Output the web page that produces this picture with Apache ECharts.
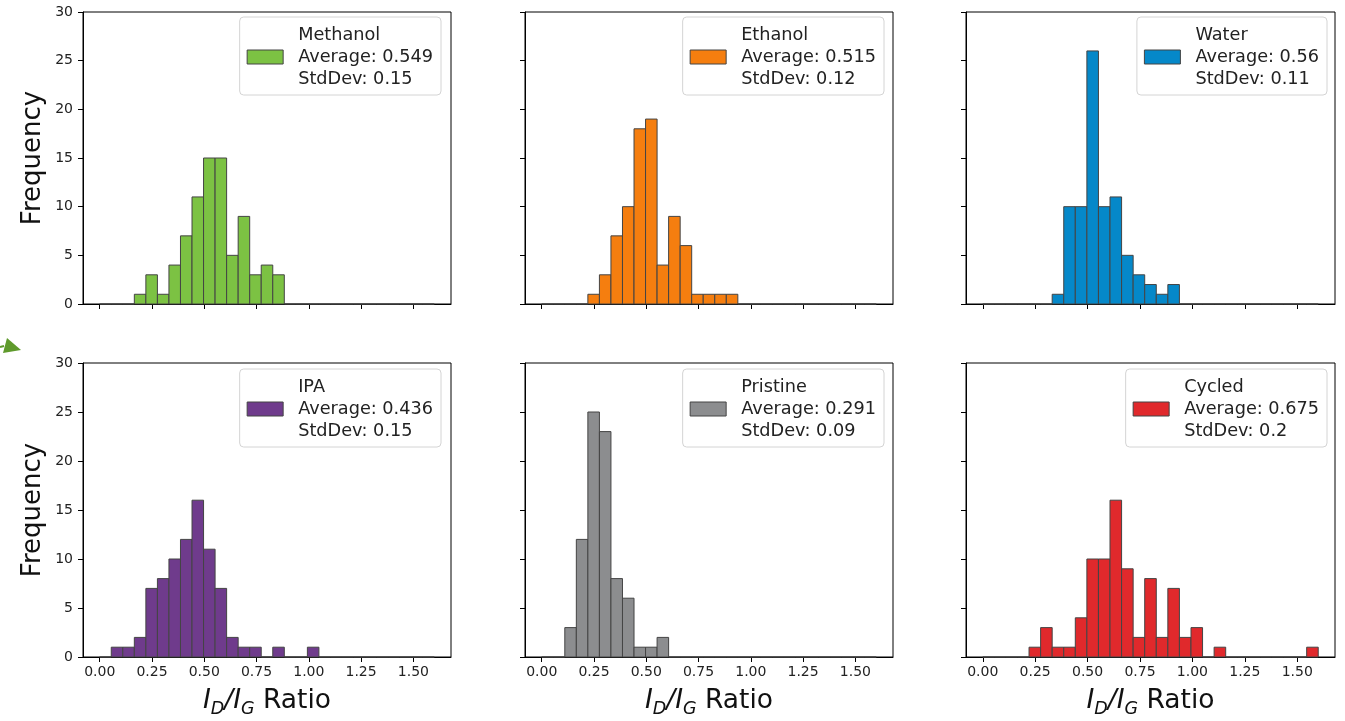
<!DOCTYPE html>
<html>
<head>
<meta charset="utf-8">
<script src="https://cdn.jsdelivr.net/npm/echarts@6/dist/echarts.min.js"></script>
<style>
html,body{margin:0;padding:0;background:#fff;}
#chart{width:1345px;height:721px;}
</style>
</head>
<body>
<div id="chart"></div>
<script>
// ---- data ----
const names = ['Methanol', 'Ethanol', 'Water', 'IPA', 'Pristine', 'Cycled'];
const averages = ['0.549', '0.515', '0.56', '0.436', '0.291', '0.675'];
const stdDevs = ['0.15', '0.12', '0.11', '0.15', '0.09', '0.2'];
const colors = ['#7cc243', '#f57e0f', '#0588c9', '#6f3b8c', '#8c8d8f', '#e0292c'];
// histogram bins: 29 equal bins from 0 to 1.6
const BIN_MIN = 0, BIN_MAX = 1.6, BIN_COUNT = 29;
const methanolCounts = [0,0,0,1,3,1,4,7,11,15,15,5,9,3,4,3,0,0,0,0,0,0,0,0,0,0,0,0,0];
const ethanolCounts  = [0,0,0,0,1,3,7,10,18,19,4,9,6,1,1,1,1,0,0,0,0,0,0,0,0,0,0,0,0];
const waterCounts    = [0,0,0,0,0,0,1,10,10,26,10,11,5,3,2,1,2,0,0,0,0,0,0,0,0,0,0,0,0];
const ipaCounts      = [0,1,1,2,7,8,10,12,16,11,7,2,1,1,0,1,0,0,1,0,0,0,0,0,0,0,0,0,0];
const pristineCounts = [0,0,3,12,25,23,8,6,1,1,2,0,0,0,0,0,0,0,0,0,0,0,0,0,0,0,0,0,0];
const cycledCounts   = [0,0,0,0,1,3,1,1,4,10,10,16,9,2,8,2,7,2,3,0,1,0,0,0,0,0,0,0,1];
const xTicks = [0, 0.25, 0.5, 0.75, 1.0, 1.25, 1.5];
const yTicks = [0, 5, 10, 15, 20, 25, 30];
const allCounts = [methanolCounts, ethanolCounts, waterCounts, ipaCounts, pristineCounts, cycledCounts];

// ---- layout ----
const FONT = 'DejaVu Sans';
const colLeft = [83, 525, 966];
const colWidth = [368, 368, 369];
const rowTop = [12, 363];
const rowHeight = [292, 294];
const legendRight = [904, 461, 18];
const legendTop = [17, 369];

const grids = [], xAxes = [], yAxes = [], series = [], legends = [];
for (let i = 0; i < 6; i++) {
  const r = Math.floor(i / 3), c = i % 3;
  grids.push({
    left: colLeft[c], top: rowTop[r], width: colWidth[c], height: rowHeight[r],
    show: true, borderColor: '#000', borderWidth: 1, backgroundColor: 'transparent'
  });
  xAxes.push({
    type: 'value', gridIndex: i, min: -0.08, max: 1.68,
    splitLine: { show: false },
    axisLine: { show: true, onZero: false, lineStyle: { color: '#000', width: 1 } },
    axisTick: { show: true, length: 5, lineStyle: { color: '#000' }, customValues: xTicks },
    axisLabel: {
      show: r === 1, customValues: xTicks, margin: 8,
      fontFamily: FONT, fontSize: 14, color: '#222',
      formatter: v => v.toFixed(2)
    },
    name: r === 1 ? '{i|I}{s|D}{i|/I}{s|G}{n| Ratio}' : '',
    nameLocation: 'middle', nameGap: 31,
    nameTextStyle: {
      fontFamily: FONT, color: '#111',
      rich: {
        i: { fontFamily: FONT, fontSize: 26.5, fontStyle: 'italic', lineHeight: 26, verticalAlign: 'top', color: '#111' },
        n: { fontFamily: FONT, fontSize: 26.5, lineHeight: 26, verticalAlign: 'top', color: '#111' },
        s: { fontFamily: FONT, fontSize: 17.5, fontStyle: 'italic', lineHeight: 17, verticalAlign: 'top', padding: [12, 0, 0, 0], color: '#111' }
      }
    }
  });
  yAxes.push({
    type: 'value', gridIndex: i, min: 0, max: 30, interval: 5,
    splitLine: { show: false },
    axisLine: { show: true, onZero: false, lineStyle: { color: '#000', width: 1 } },
    axisTick: { show: true, length: 5, lineStyle: { color: '#000' } },
    axisLabel: { show: c === 0, margin: 10, fontFamily: FONT, fontSize: 14, color: '#222' },
    name: c === 0 ? 'Frequency' : '',
    nameLocation: 'middle', nameRotate: 90, nameGap: 37,
    nameTextStyle: { fontFamily: FONT, fontSize: 26, color: '#111' }
  });
  const counts = allCounts[i];
  const width = (BIN_MAX - BIN_MIN) / BIN_COUNT;
  const data = counts.map((n, k) => [BIN_MIN + k * width, BIN_MIN + (k + 1) * width, n]);
  const color = colors[i];
  series.push({
    type: 'custom', name: names[i], xAxisIndex: i, yAxisIndex: i,
    itemStyle: { color: color, borderColor: '#444', borderWidth: 1 },
    encode: { x: [0, 1], y: 2 },
    renderItem: function (params, api) {
      const p0 = api.coord([api.value(0), 0]);
      const p1 = api.coord([api.value(1), api.value(2)]);
      return {
        type: 'rect',
        shape: { x: p0[0], y: p1[1], width: p1[0] - p0[0], height: p0[1] - p1[1] },
        style: { fill: color, stroke: '#444', lineWidth: 1 }
      };
    },
    data: data
  });
  legends.push({
    right: legendRight[c], top: legendTop[r], orient: 'vertical',
    selectedMode: false,
    data: [{ name: names[i], icon: 'rect', itemStyle: { color: color, borderColor: '#444', borderWidth: 1 } }],
    itemWidth: 36, itemHeight: 14,
    padding: [7, 8, 5, 7],
    backgroundColor: 'rgba(255,255,255,0.8)', borderColor: '#d4d4d4', borderWidth: 1, borderRadius: 4,
    formatter: function (name) {
      const k = names.indexOf(name);
      return name + '\nAverage: ' + averages[k] + '\nStdDev: ' + stdDevs[k];
    },
    textStyle: { fontFamily: FONT, fontSize: 17.7, lineHeight: 22, color: '#222', padding: [0, 0, 0, 10] }
  });
}

const chart = echarts.init(document.getElementById('chart'), null, { renderer: 'canvas' });
chart.setOption({
  animation: false,
  backgroundColor: '#fff',
  grid: grids, xAxis: xAxes, yAxis: yAxes, series: series, legend: legends,
  graphic: [
    { type: 'polygon', shape: { points: [[7, 338], [21, 350], [3, 353]] }, style: { fill: '#5f9a2c' } },
    { type: 'line', shape: { x1: 0, y1: 347, x2: 4, y2: 346 }, style: { stroke: '#5f9a2c', lineWidth: 2 } }
  ]
});
</script>
</body>
</html>
